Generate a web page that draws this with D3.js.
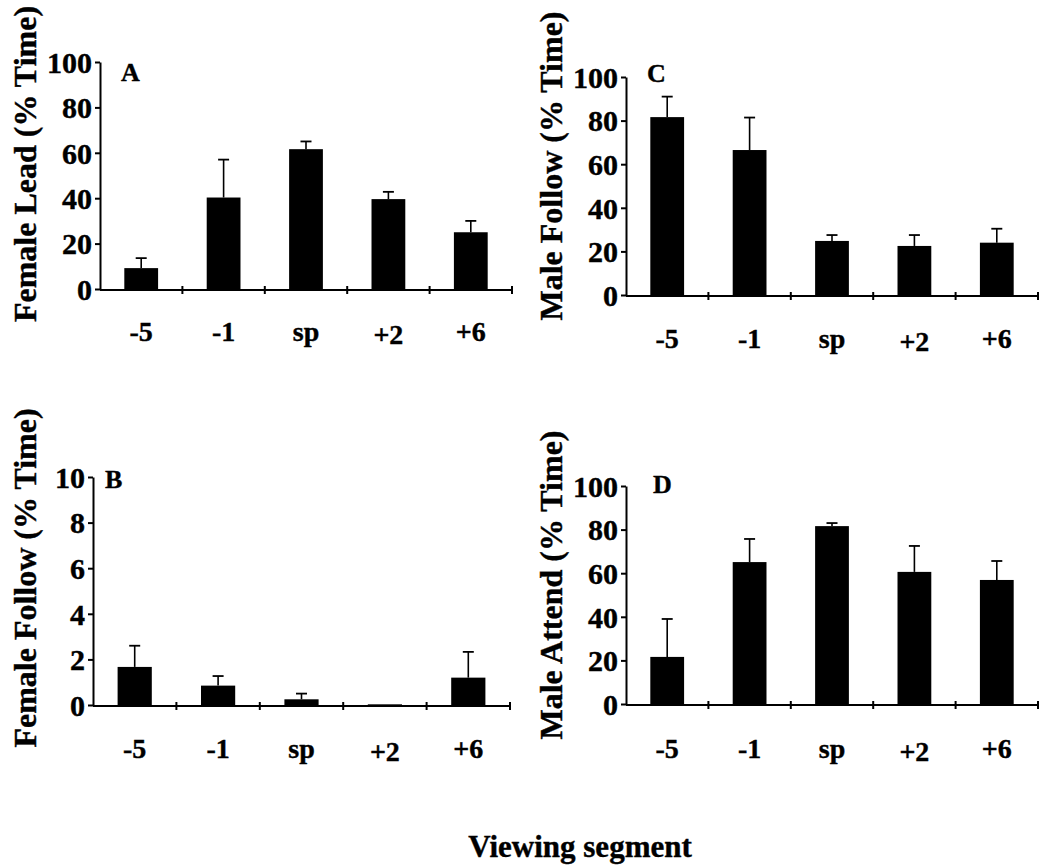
<!DOCTYPE html>
<html>
<head>
<meta charset="utf-8">
<script src="https://cdn.jsdelivr.net/npm/d3@7"></script>
<style>
  html, body { margin: 0; padding: 0; background: #fff; }
  svg { display: block; }
  svg text { stroke: #000; stroke-width: 0.4px; }
</style>
</head>
<body>
<svg id="chart" width="1040" height="867" font-family="'Liberation Serif', 'Times New Roman', serif" font-weight="bold"></svg>
<script>
// ---- data ----
const segments = ["-5", "-1", "sp", "+2", "+6"];

const femaleLead    = [9.2, 40.3, 61.6, 39.6, 25.0];
const femaleLeadErr = [4.4, 16.7, 3.4, 3.2, 5.0];

const femaleFollow    = [1.67, 0.85, 0.25, 0.03, 1.2];
const femaleFollowErr = [0.93, 0.42, 0.25, 0.0, 1.13];

const maleFollow    = [81.6, 66.5, 24.8, 22.5, 24.0];
const maleFollowErr = [9.4, 14.9, 2.7, 5.0, 6.4];

const maleAttend    = [21.6, 65.1, 81.6, 60.6, 56.9];
const maleAttendErr = [17.4, 10.6, 1.4, 11.9, 8.7];

const ticks100 = [0, 20, 40, 60, 80, 100];
const ticks10  = [0, 2, 4, 6, 8, 10];

const FONT = "'Liberation Serif', 'Times New Roman', serif";
const svg = d3.select("#chart");

function panel(cfg) {
  const g = svg.append("g");
  const x = d3.scaleBand().domain(segments).range([cfg.x0, cfg.x1]).paddingInner(0.59).paddingOuter(0.295);
  const y = d3.scaleLinear().domain([0, cfg.max]).range([cfg.yBottom, cfg.yTop]);

  // bars
  g.selectAll("rect.bar").data(cfg.values).enter().append("rect")
    .attr("x", (d, i) => x(segments[i]))
    .attr("width", x.bandwidth())
    .attr("y", d => y(d))
    .attr("height", d => Math.max(y(0) - y(d), 1))
    .attr("fill", "#000");

  // error bars (upper only)
  cfg.errors.forEach((e, i) => {
    if (e <= 0) return;
    const cx = x(segments[i]) + x.bandwidth() / 2;
    g.append("line").attr("x1", cx).attr("x2", cx)
      .attr("y1", y(cfg.values[i])).attr("y2", y(cfg.values[i] + e))
      .attr("stroke", "#000").attr("stroke-width", 1.6);
    g.append("line").attr("x1", cx - 5.5).attr("x2", cx + 5.5)
      .attr("y1", y(cfg.values[i] + e)).attr("y2", y(cfg.values[i] + e))
      .attr("stroke", "#000").attr("stroke-width", 1.8);
  });

  // y axis
  const yAxis = d3.axisLeft(y).tickValues(cfg.ticks).tickSize(5).tickPadding(3).tickSizeOuter(0);
  const ya = g.append("g").attr("transform", `translate(${cfg.x0},0)`).call(yAxis)
    .attr("font-family", FONT).attr("font-size", 30).attr("font-weight", "bold");
  ya.select(".domain").attr("stroke", "#000").attr("stroke-width", 2);
  ya.selectAll(".tick line").attr("stroke", "#000").attr("stroke-width", 2);
  ya.selectAll(".tick text").attr("fill", "#000").attr("font-size", 30).attr("dy", "0.34em");

  // x axis line
  g.append("line").attr("x1", cfg.x0).attr("x2", cfg.x1)
    .attr("y1", y(0) + 1).attr("y2", y(0) + 1)
    .attr("stroke", "#000").attr("stroke-width", 2);
  // x ticks at band boundaries
  const step = x.step();
  segments.forEach((s) => {
    const bx = x(s) + x.bandwidth() / 2 + step / 2;
    g.append("line").attr("x1", bx).attr("x2", bx)
      .attr("y1", y(0) - 3).attr("y2", y(0) + 5)
      .attr("stroke", "#000").attr("stroke-width", 2);
  });

  // x labels
  g.selectAll("text.xl").data(segments).enter().append("text")
    .attr("x", d => x(d) + x.bandwidth() / 2)
    .attr("y", d => cfg.labelY + (d === "+2" ? 3 : 0))
    .attr("text-anchor", "middle")
    .attr("font-size", 28)
    .text(d => d);

  // panel letter
  g.append("text").attr("x", cfg.letterX).attr("y", cfg.letterY)
    .attr("font-size", 26).text(cfg.letter);

  // y title
  g.append("text")
    .attr("transform", `translate(${cfg.titleX},${cfg.titleY}) rotate(-90)`)
    .attr("text-anchor", "middle")
    .attr("font-size", 32)
    .text(cfg.title);
}

panel({ x0: 100, x1: 512, yTop: 62, yBottom: 289, max: 100, ticks: ticks100,
  values: femaleLead, errors: femaleLeadErr, letter: "A", letterX: 121, letterY: 81,
  title: "Female Lead (% Time)", titleX: 36, titleY: 164, labelY: 341 });

panel({ x0: 626, x1: 1038, yTop: 77, yBottom: 295, max: 100, ticks: ticks100,
  values: maleFollow, errors: maleFollowErr, letter: "C", letterX: 647, letterY: 82,
  title: "Male Follow (% Time)", titleX: 562, titleY: 166, labelY: 348 });

panel({ x0: 93, x1: 510, yTop: 477, yBottom: 705, max: 10, ticks: ticks10,
  values: femaleFollow, errors: femaleFollowErr, letter: "B", letterX: 105, letterY: 488,
  title: "Female Follow (% Time)", titleX: 36, titleY: 578, labelY: 758 });

panel({ x0: 626, x1: 1038, yTop: 486, yBottom: 704, max: 100, ticks: ticks100,
  values: maleAttend, errors: maleAttendErr, letter: "D", letterX: 653, letterY: 493,
  title: "Male Attend (% Time)", titleX: 562, titleY: 585, labelY: 758 });

svg.append("text").attr("x", 580).attr("y", 857).attr("text-anchor", "middle")
  .attr("font-size", 31).text("Viewing segment");
</script>
</body>
</html>
